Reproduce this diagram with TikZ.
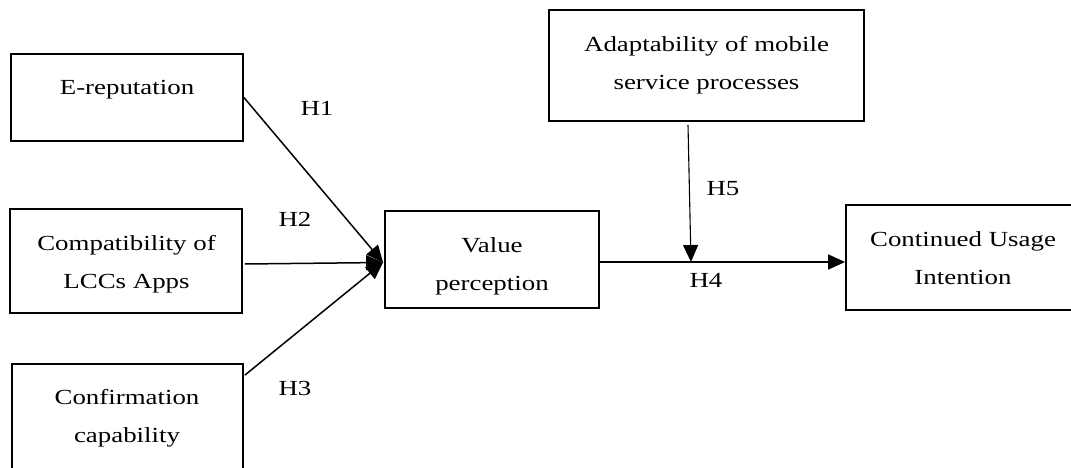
\documentclass[tikz,border=0pt]{standalone}
\usepackage{fontspec}
\setmainfont{Liberation Serif}[FakeStretch=1.25]
\usetikzlibrary{arrows.meta,calc}
\begin{document}
\begin{tikzpicture}[x=1pt,y=-1pt,
  box/.style={draw,line width=1.8pt,inner sep=0pt},
  txt/.style={font=\fontsize{21.5}{38}\selectfont,align=center,anchor=base,inner sep=0pt},
  conn/.style={line width=1.5pt,-{Triangle[length=17pt,width=15pt]}},
  thin conn/.style={line width=1.1pt,-{Triangle[length=17pt,width=15pt]}}]
\useasboundingbox (0,0) rectangle (1071,468);
\clip (0,0) rectangle (1071,468);

% construct boxes
\node[box,minimum width=232pt,minimum height=87pt]  (erep)   at (127,97.5)  {};
\node[box,minimum width=232pt,minimum height=104pt] (compat) at (126,261)   {};
\node[box,minimum width=231pt,minimum height=108pt] (conf)   at (127.5,418) {};
\node[box,minimum width=214pt,minimum height=97pt]  (value)  at (492,259.5) {};
\node[box,minimum width=315pt,minimum height=111pt] (adapt)  at (706.5,65.5){};
\node[box,minimum width=234pt,minimum height=105pt] (cont)   at (963,257.5) {};

% box captions (anchored at the baseline of the last line)
\node[txt] (erept)   at (127,95)   {E-reputation};
\node[txt] (compatt) at (126.5,288){Compatibility of\\LCCs Apps};
\node[txt] (conft)   at (127,442)  {Confirmation\\capability};
\node[txt] (valuet)  at (492,290)  {Value\\perception};
\node[txt] (adaptt)  at (706.5,90) {Adaptability of mobile\\service processes};
\node[txt] (contt)   at (963,284)  {Continued Usage\\Intention};

% connector end points
\coordinate (vin)   at ($(value.west)+(-1,3)$);
\coordinate (c2)    at ($(compat.east)+(2,3)$);
\coordinate (c3)    at ($(conf.north east)+(1,12)$);
\coordinate (vout)  at ($(value.east)+(0,2.5)$);
\coordinate (cin)   at ($(cont.west)+(0,4.5)$);
\coordinate (a5)    at ($(adapt.south)+(-18.5,3)$);
\coordinate (m5)    at (691,262);

% hypothesis paths
\draw[conn] (erep.east) -- (vin);
\draw[conn] (c2) -- (vin);
\draw[conn] (c3) -- (vin);
\draw[conn] (vout) -- (cin);
\draw[thin conn] (a5) -- (m5);

% hypothesis labels
\node[txt] (h1) at (317,116) {H1};
\node[txt] (h2) at (295,226) {H2};
\node[txt] (h3) at (295,395) {H3};
\node[txt] (h4) at (706,287) {H4};
\node[txt] (h5) at (723,195) {H5};
\end{tikzpicture}
\end{document}
